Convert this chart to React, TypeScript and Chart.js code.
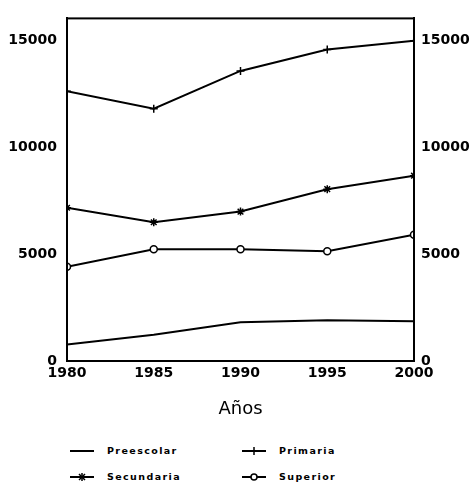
import React, { useEffect, useRef } from "react";
import { Chart, registerables } from "chart.js";

Chart.register(...registerables);

const years = [1980, 1985, 1990, 1995, 2000];
const preescolar = [770, 1230, 1820, 1910, 1860];
const primaria = [12640, 11820, 13590, 14590, 15000];
const secundaria = [7180, 6500, 7000, 8050, 8680];
const superior = [4410, 5230, 5230, 5140, 5910];
const yTickValues = [0, 5000, 10000, 15000];
const seriesNames = ["Preescolar", "Primaria", "Secundaria", "Superior"];
const xTitle = "Años";

const FONT = "'DejaVu Sans', sans-serif";

const framePlugin = {
  id: "frame",
  afterDraw(chart: any) {
    const { ctx, chartArea } = chart;
    ctx.save();
    ctx.strokeStyle = "#000";
    ctx.lineWidth = 2;
    ctx.strokeRect(chartArea.left, chartArea.top, chartArea.right - chartArea.left, chartArea.bottom - chartArea.top);
    ctx.restore();
  },
};

function LegendMark({ kind }: { kind: string }) {
  return (
    <svg width={26} height={10} style={{ display: "block" }}>
      <line x1={1} y1={5} x2={25} y2={5} stroke="#000" strokeWidth={2} />
      {kind === "cross" && <line x1={13} y1={1} x2={13} y2={9} stroke="#000" strokeWidth={1.5} />}
      {kind === "star" && (
        <g stroke="#000" strokeWidth={1.5}>
          <line x1={10} y1={2} x2={16} y2={8} />
          <line x1={16} y1={2} x2={10} y2={8} />
          <line x1={13} y1={1} x2={13} y2={9} />
        </g>
      )}
      {kind === "circle" && <circle cx={13} cy={5} r={3} fill="#fff" stroke="#000" strokeWidth={1.5} />}
    </svg>
  );
}

export default function App() {
  const ref = useRef<HTMLCanvasElement | null>(null);

  useEffect(() => {
    if (!ref.current) return;
    const mk = (vals: number[]) => years.map((x, i) => ({ x, y: vals[i] }));
    const base = {
      borderColor: "#000",
      borderWidth: 2,
      pointBorderColor: "#000",
      pointBackgroundColor: "#000",
      pointBorderWidth: 1.5,
      tension: 0,
    };
    const chart = new Chart(ref.current, {
      type: "line",
      data: {
        datasets: [
          { ...base, label: seriesNames[0], data: mk(preescolar), pointRadius: 0 },
          { ...base, label: seriesNames[1], data: mk(primaria), pointStyle: "cross", pointRadius: 4 },
          { ...base, label: seriesNames[2], data: mk(secundaria), pointStyle: "star", pointRadius: 4 },
          {
            ...base,
            label: seriesNames[3],
            data: mk(superior),
            pointStyle: "circle",
            pointRadius: 3.5,
            pointBackgroundColor: "#fff",
          },
        ],
      },
      options: {
        animation: false,
        responsive: false,
        layout: { padding: { top: 10, left: 0, right: 0, bottom: 0 } },
        plugins: { legend: { display: false }, tooltip: { enabled: false } },
        scales: {
          x: {
            type: "linear",
            min: 1980,
            max: 2000,
            grid: { display: false, drawTicks: false },
            border: { display: true, color: "#000", width: 2 },
            ticks: {
              stepSize: 5,
              color: "#000",
              padding: 4,
              font: { family: FONT, size: 14, weight: "bold" },
              callback: (v: any) => String(v),
            },
            afterBuildTicks: (axis: any) => {
              axis.ticks = years.map((v) => ({ value: v }));
            },
            title: {
              display: true,
              text: xTitle,
              color: "#000",
              font: { family: FONT, size: 18 },
              padding: { top: 10, bottom: 0 },
            },
            afterFit: (axis: any) => {
              axis.height = 59;
            },
          },
          y: {
            position: "left",
            min: 0,
            max: 16050,
            grid: { display: false, drawTicks: false },
            border: { display: true, color: "#000", width: 2 },
            ticks: {
              color: "#000",
              padding: 10,
              font: { family: FONT, size: 14, weight: "bold" },
              callback: (v: any) => String(v),
            },
            afterBuildTicks: (axis: any) => {
              axis.ticks = yTickValues.map((v) => ({ value: v }));
            },
            afterFit: (axis: any) => {
              axis.width = 67;
            },
          },
          y2: {
            position: "right",
            min: 0,
            max: 16050,
            grid: { display: false, drawTicks: false },
            border: { display: true, color: "#000", width: 2 },
            ticks: {
              color: "#000",
              padding: 7,
              font: { family: FONT, size: 14, weight: "bold" },
              callback: (v: any) => String(v),
            },
            afterBuildTicks: (axis: any) => {
              axis.ticks = yTickValues.map((v) => ({ value: v }));
            },
            afterFit: (axis: any) => {
              axis.width = 60;
            },
          },
        },
      } as any,
      plugins: [framePlugin],
    });
    return () => chart.destroy();
  }, []);

  const legendText: React.CSSProperties = {
    position: "absolute",
    fontFamily: FONT,
    fontWeight: "bold",
    fontSize: 9.5,
    letterSpacing: 1.4,
    color: "#000",
    lineHeight: "10px",
    whiteSpace: "nowrap",
  };
  const items = [
    { name: seriesNames[0], kind: "none", x: 69, y: 446 },
    { name: seriesNames[1], kind: "cross", x: 241, y: 446 },
    { name: seriesNames[2], kind: "star", x: 69, y: 472 },
    { name: seriesNames[3], kind: "circle", x: 241, y: 472 },
  ];

  return (
    <div style={{ position: "absolute", left: 0, top: 0, width: 474, height: 485, background: "#fff", overflow: "hidden" }}>
      <canvas ref={ref} width={474} height={420} style={{ position: "absolute", left: 0, top: 0 }} />
      {items.map((it) => (
        <React.Fragment key={it.name}>
          <div style={{ position: "absolute", left: it.x, top: it.y }}>
            <LegendMark kind={it.kind} />
          </div>
          <div style={{ ...legendText, left: it.x + 38, top: it.y }}>{it.name}</div>
        </React.Fragment>
      ))}
    </div>
  );
}
